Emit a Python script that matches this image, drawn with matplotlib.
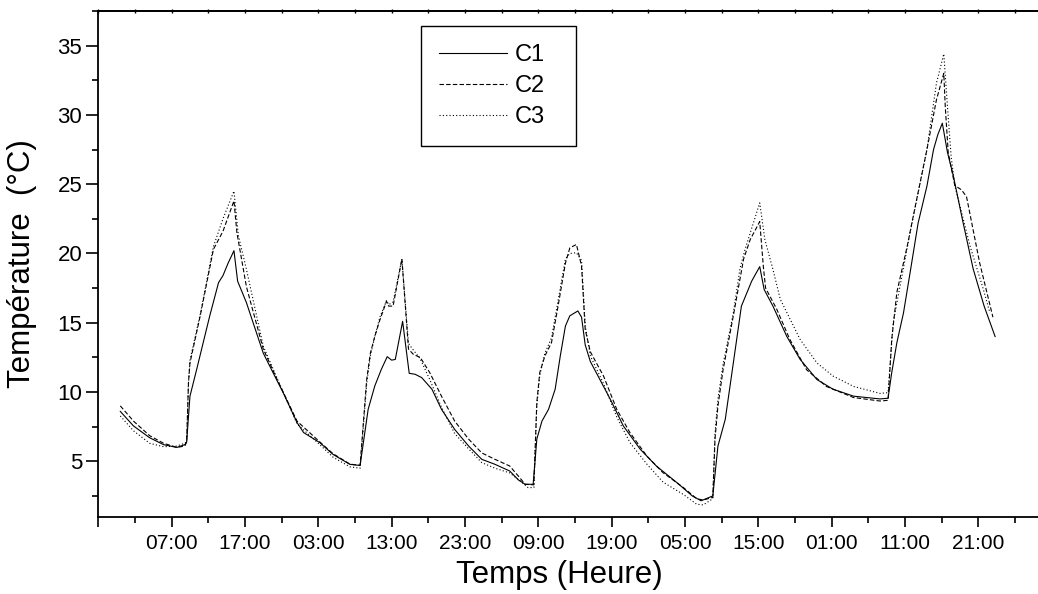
import matplotlib
matplotlib.use("Agg")
import matplotlib.pyplot as plt
from matplotlib.ticker import MultipleLocator, FixedLocator

plt.rcParams['font.family'] = ['Liberation Sans', 'DejaVu Sans']

# hours from the axis origin (21:00 of day 0)
t1 = [3.0, 4.8, 7.0, 8.9, 10.7, 11.8, 12.05, 12.5, 13.4, 15.2, 16.4, 17.0, 17.7, 18.5, 19.0, 20.2,
      22.5, 24.3, 25.2, 27.1, 28.0, 30.2, 32.0, 34.3, 35.7, 36.8, 37.7, 38.6, 39.4, 40.0, 40.5, 41.5,
      42.4, 43.2, 44.1, 45.5, 46.8, 48.6, 50.5, 52.3, 54.1, 56.1, 57.3, 58.2, 59.3, 59.8, 60.5, 61.4,
      62.3, 63.0, 63.7, 64.3, 65.4, 65.9, 66.4, 67.1, 68.4, 69.8, 71.6, 73.9, 76.1, 78.9, 81.0, 82.2,
      83.8, 84.5, 85.5, 86.6, 87.7, 89.1, 90.2, 90.8, 92.0, 93.9, 95.7, 98.0, 100.2, 103.0, 106.6,
      107.7, 108.2, 108.9, 109.8, 110.7, 111.8, 113.0, 113.9, 114.5, 115.1, 115.8, 116.6, 117.9,
      119.3, 120.8, 122.3]
c1 = [8.6, 7.55, 6.7, 6.2, 6.0, 6.2, 6.4, 9.7, 11.6, 15.5, 17.9, 18.4, 19.3, 20.2, 18.0, 16.45,
      12.8, 10.9, 9.96, 7.8, 7.07, 6.35, 5.5, 4.78, 4.7, 8.75, 10.43, 11.64, 12.55, 12.3, 12.35, 15.1,
      11.35, 11.28, 11.04, 10.2, 8.75, 7.3, 6.1, 5.14, 4.78, 4.3, 3.65, 3.34, 3.34, 6.6, 7.9, 8.75,
      10.2, 12.6, 14.76, 15.5, 15.85, 15.4, 13.4, 12.2, 10.9, 9.5, 7.55, 5.87, 4.66, 3.46, 2.5, 2.15,
      2.5, 6.1, 8.03, 12.1, 16.2, 18.0, 19.05, 17.4, 16.2, 14.0, 12.36, 10.9, 10.2, 9.7, 9.5,
      9.55, 11.4, 13.56, 15.7, 18.6, 22.2, 24.86, 27.5, 28.6, 29.4, 27.3, 25.6, 22.3,
      18.9, 16.2, 14.0]

t2 = [3.0, 4.8, 7.0, 8.9, 10.7, 11.8, 12.05, 12.3, 12.5, 13.9, 15.7, 17.0, 18.5, 18.9, 20.2, 22.5,
      24.3, 27.1, 30.2, 32.0, 34.3, 35.7, 36.6, 37.1, 37.7, 38.4, 39.3, 39.6, 40.2, 41.4, 42.3, 43.0,
      43.9, 45.2, 46.8, 48.6, 50.5, 52.3, 54.1, 56.1, 57.5, 58.2, 59.4, 59.8, 60.2, 60.9, 61.8, 62.7,
      63.7, 64.3, 65.2, 65.9, 66.4, 67.1, 68.9, 70.7, 72.5, 74.8, 77.0, 79.8, 81.6, 82.5, 83.8, 84.1,
      84.5, 85.2, 86.6, 88.0, 88.9, 90.2, 90.7, 91.0, 92.5, 94.3, 96.6, 99.3, 103.0, 106.6, 107.7,
      108.2, 108.9, 110.3, 111.6, 113.0, 114.3, 115.3, 115.5, 115.9, 116.8, 117.7, 118.4, 120.2, 122.0]
c2 = [9.0, 7.9, 6.85, 6.3, 6.0, 6.1, 6.4, 10.7, 12.1, 15.5, 20.3, 21.6, 23.8, 21.5, 17.6, 13.1,
      11.0, 7.9, 6.4, 5.55, 4.8, 4.7, 10.9, 12.8, 14.0, 15.2, 16.55, 16.2, 16.2, 19.6, 13.1, 12.7,
      12.5, 11.4, 9.7, 7.9, 6.6, 5.6, 5.14, 4.66, 3.8, 3.34, 3.3, 9.25, 11.4, 12.6, 13.56, 16.2,
      19.3, 20.4, 20.65, 19.1, 14.5, 12.9, 11.15, 8.75, 7.07, 5.38, 4.18, 3.1, 2.3, 2.2, 2.4, 6.6,
      9.0, 11.6, 15.5, 19.6, 21.0, 22.3, 19.0, 17.5, 16.0, 13.8, 11.6, 10.4, 9.6, 9.35, 9.4,
      13.8, 17.2, 20.5, 23.9, 27.5, 31.1, 33.0, 30.6, 27.3, 24.9, 24.6, 24.1, 19.3, 15.4]

t3 = [3.0, 4.8, 7.0, 8.9, 10.7, 11.8, 12.05, 12.3, 12.5, 13.9, 15.7, 17.0, 18.5, 19.1, 20.2, 22.5,
      24.3, 27.1, 30.2, 32.0, 34.3, 35.7, 36.6, 37.1, 37.7, 38.4, 39.3, 39.6, 40.2, 41.4, 42.3, 43.0,
      43.9, 45.2, 46.8, 48.6, 50.5, 52.3, 54.1, 56.1, 57.5, 58.6, 59.4, 59.8, 60.2, 60.9, 61.8, 62.7,
      63.7, 64.3, 65.2, 65.9, 66.4, 67.1, 68.9, 70.7, 72.5, 74.8, 77.0, 79.8, 81.6, 82.5, 83.8, 84.1,
      84.5, 85.2, 86.6, 87.5, 88.2, 90.2, 90.9, 92.0, 93.0, 95.7, 98.0, 100.2, 103.0, 106.6, 107.7,
      108.4, 110.7, 113.0, 114.3, 115.3, 115.8, 116.3, 116.8, 118.9, 120.7, 121.6]
c3 = [8.27, 7.2, 6.3, 6.05, 6.1, 6.3, 6.4, 10.7, 12.3, 15.6, 20.5, 22.5, 24.5, 21.3, 18.85, 13.3,
      11.1, 7.7, 6.2, 5.3, 4.6, 4.5, 10.6, 12.6, 14.0, 15.4, 16.6, 16.3, 16.5, 19.6, 13.5, 13.0,
      12.4, 10.9, 8.9, 7.0, 5.9, 4.9, 4.5, 4.16, 3.6, 3.1, 3.1, 9.0, 11.2, 12.8, 13.9, 16.6,
      19.6, 20.0, 20.05, 19.5, 14.8, 12.6, 10.6, 8.2, 6.35, 4.8, 3.5, 2.6, 1.9, 1.85, 2.3, 7.0,
      9.5, 12.0, 15.7, 18.9, 20.3, 23.65, 21.0, 18.85, 16.7, 13.8, 12.1, 11.15, 10.4, 9.9, 9.95,
      15.0, 21.5, 27.5, 32.3, 34.4, 30.6, 27.0, 24.9, 20.5, 17.4, 15.7]

series_names = ['C1', 'C2', 'C3']
x_tick_hours = [0, 10, 20, 30, 40, 50, 60, 70, 80, 90, 100, 110, 120, 130]
x_tick_labels = ['', '07:00', '17:00', '03:00', '13:00', '23:00', '09:00', '19:00',
                 '05:00', '15:00', '01:00', '11:00', '21:00', '']
y_ticks = [5, 10, 15, 20, 25, 30, 35]

W, H = 1038, 594
fig = plt.figure(figsize=(W / 100, H / 100), dpi=100)
left_px, right_t = 98.3, 130
px_per_h = 7.333
ax_w_px = right_t * px_per_h
ax_h_px = 516.7 - 11
ax = fig.add_axes([left_px / W, (H - 516.7) / H, ax_w_px / W, ax_h_px / H])

lw = 0.8
ax.plot(t1, c1, color='black', lw=lw, linestyle='-', label=series_names[0])
ax.plot(t2, c2, color='black', lw=lw, linestyle=(0, (4, 2)), label=series_names[1])
ax.plot(t3, c3, color='black', lw=lw, linestyle=(0, (1, 2)), label=series_names[2])

ax.set_xlim(0, right_t)
ax.set_ylim(1.0, 37.5)

ax.xaxis.set_major_locator(FixedLocator(x_tick_hours))
ax.set_xticklabels(x_tick_labels)
ax.xaxis.set_minor_locator(MultipleLocator(5))
ax.yaxis.set_major_locator(FixedLocator(y_ticks))
ax.yaxis.set_minor_locator(MultipleLocator(2.5))

ax.tick_params(axis='both', which='major', direction='out', labelsize=15, width=1.2)
ax.tick_params(axis='y', which='major', length=8.6, pad=3, labelsize=16)
ax.tick_params(axis='x', which='major', length=7.2, pad=5)
ax.tick_params(axis='both', which='minor', direction='out', length=4.3, width=1.2)

for s in ['left', 'bottom', 'top']:
    ax.spines[s].set_linewidth(1.3)
ax.spines['right'].set_visible(False)

top = ax.secondary_xaxis('top')
top.xaxis.set_major_locator(MultipleLocator(5))
top.tick_params(direction='inout', length=3, width=1.0, labeltop=False)
top.spines['top'].set_linewidth(1.3)

ax.set_xlabel('Temps (Heure)', fontsize=22.5)
ax.xaxis.set_label_coords((559 - left_px) / ax_w_px, (516.7 - 560) / ax_h_px)
ax.set_ylabel('Température  (°C)', fontsize=22.5)
ax.yaxis.set_label_coords((37 - left_px) / ax_w_px, 0.5)

leg_x0 = (420.7 - left_px) / ax_w_px
leg_w = 155.3 / ax_w_px
leg_top = (516.7 - 26) / ax_h_px
ax.legend(loc='upper left', bbox_to_anchor=(leg_x0, leg_top - 0.23, leg_w, 0.23),
          mode='expand', borderaxespad=0, fontsize=17, handlelength=2.9,
          handletextpad=0.33, labelspacing=0.38, borderpad=0.76,
          fancybox=False, edgecolor='black', framealpha=1)
ax.get_legend().get_frame().set_linewidth(1.0)

fig.savefig('out.png', dpi=100)
